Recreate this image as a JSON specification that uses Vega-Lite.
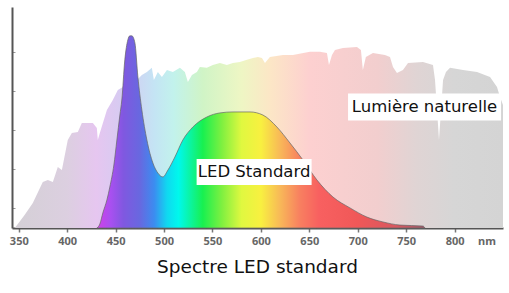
{
  "$schema": "https://vega.github.io/schema/vega-lite/v6.json",
  "width": 491,
  "height": 221,
  "autosize": "none",
  "padding": {"left": 12, "top": 7, "right": 6, "bottom": 65},
  "background": "white",
  "config": {"view": {"stroke": null}},
  "title": {
    "text": "Spectre LED standard",
    "orient": "bottom",
    "anchor": "middle",
    "font": "DejaVu Sans",
    "fontSize": 18.5,
    "fontWeight": "normal",
    "color": "#111111",
    "offset": 12
  },
  "datasets": {
    "natural": [
      {"nm":345.9,"v":0},{"nm":356,"v":0.67},{"nm":364.5,"v":1.28},{"nm":374.8,"v":2.36},{"nm":380,"v":2.46},{"nm":385.2,"v":2.36},{"nm":390.3,"v":3.13},{"nm":394.5,"v":2.97},{"nm":400.6,"v":4.51},{"nm":404.8,"v":4.87},{"nm":411,"v":4.92},{"nm":415.1,"v":5.38},{"nm":426.5,"v":5.38},{"nm":430.6,"v":5.13},{"nm":431.6,"v":4.51},{"nm":433.7,"v":4.87},{"nm":441,"v":6.05},{"nm":447.1,"v":6.56},{"nm":452.3,"v":7.08},{"nm":457.5,"v":7.23},{"nm":464.7,"v":7.44},{"nm":472,"v":7.59},{"nm":477.1,"v":7.85},{"nm":482.3,"v":8.0},{"nm":487.4,"v":8.21},{"nm":489.5,"v":7.59},{"nm":493.6,"v":8.0},{"nm":497.8,"v":7.74},{"nm":503,"v":8.1},{"nm":509.1,"v":8.0},{"nm":516.4,"v":8.21},{"nm":521.5,"v":8.0},{"nm":524.6,"v":7.49},{"nm":528.8,"v":7.85},{"nm":533.9,"v":8.0},{"nm":537,"v":8.26},{"nm":544.2,"v":8.21},{"nm":550.4,"v":8.36},{"nm":557.7,"v":8.46},{"nm":564.9,"v":8.36},{"nm":571.1,"v":8.46},{"nm":578.3,"v":8.51},{"nm":585.6,"v":8.62},{"nm":591.8,"v":8.72},{"nm":597,"v":8.77},{"nm":601.1,"v":8.72},{"nm":604.2,"v":8.46},{"nm":609.3,"v":8.77},{"nm":622.8,"v":8.87},{"nm":633.1,"v":8.87},{"nm":650.6,"v":9.03},{"nm":660.9,"v":9.03},{"nm":668.2,"v":8.97},{"nm":670.3,"v":8.36},{"nm":673.4,"v":8.87},{"nm":676.5,"v":9.13},{"nm":684.7,"v":9.23},{"nm":699.2,"v":9.28},{"nm":703.3,"v":9.13},{"nm":705.3,"v":8.1},{"nm":708.4,"v":8.77},{"nm":715.7,"v":8.97},{"nm":728.1,"v":8.87},{"nm":733.3,"v":8.77},{"nm":736.4,"v":8.26},{"nm":740.5,"v":7.95},{"nm":746.7,"v":8.1},{"nm":751.9,"v":8.46},{"nm":767.4,"v":8.51},{"nm":777.7,"v":8.36},{"nm":779.8,"v":7.59},{"nm":781.9,"v":6.05},{"nm":783.9,"v":4.51},{"nm":786,"v":6.05},{"nm":788.1,"v":7.59},{"nm":791.1,"v":8.0},{"nm":795.3,"v":8.21},{"nm":808.7,"v":8.1},{"nm":823.2,"v":8.0},{"nm":836.6,"v":7.74},{"nm":843.8,"v":7.23},{"nm":846.9,"v":6.72},{"nm":850,"v":6.3}
    ],
    "led": [
      {"nm":430.6,"v":0},{"nm":433.7,"v":0.2},{"nm":436.8,"v":0.77},{"nm":441,"v":1.44},{"nm":444,"v":2.1},{"nm":448.2,"v":3.23},{"nm":451.3,"v":4.51},{"nm":454.4,"v":5.79},{"nm":456.4,"v":6.56},{"nm":459.5,"v":8.62},{"nm":462.6,"v":9.64},{"nm":464.7,"v":9.85},{"nm":466.8,"v":9.85},{"nm":469.9,"v":9.49},{"nm":473,"v":7.74},{"nm":477.1,"v":6.05},{"nm":482.3,"v":4.51},{"nm":488.5,"v":3.33},{"nm":493.6,"v":2.82},{"nm":498.8,"v":2.62},{"nm":504,"v":2.97},{"nm":511.2,"v":3.64},{"nm":519.4,"v":4.51},{"nm":529.8,"v":5.18},{"nm":544.2,"v":5.69},{"nm":557.7,"v":5.9},{"nm":571.1,"v":5.95},{"nm":588.7,"v":5.95},{"nm":602.1,"v":5.79},{"nm":616.5,"v":5.18},{"nm":630,"v":4.36},{"nm":643.4,"v":3.49},{"nm":657.9,"v":2.46},{"nm":674.4,"v":1.59},{"nm":692,"v":1.03},{"nm":709.5,"v":0.56},{"nm":726,"v":0.31},{"nm":743.6,"v":0.15},{"nm":767.4,"v":0.1},{"nm":769.4,"v":0}
    ],
    "labels": [
      {"label":"LED Standard","nm":593,"v":2.87},
      {"label":"Lumière naturelle","nm":769,"v":6.2}
    ]
  },
  "layer": [
    {
      "data": {"name": "natural"},
      "mark": {
        "type": "area",
        "interpolate": "linear",
        "color": {
          "gradient": "linear", "x1": 0, "x2": 1, "y1": 0, "y2": 0,
          "stops": [
            {"offset": 0, "color": "#d4d0d6"},
            {"offset": 0.107, "color": "#dccfe0"},
            {"offset": 0.167, "color": "#e6c6f0"},
            {"offset": 0.226, "color": "#d4ccf2"},
            {"offset": 0.286, "color": "#c4e4f4"},
            {"offset": 0.325, "color": "#c2f2ec"},
            {"offset": 0.385, "color": "#d0f4c6"},
            {"offset": 0.464, "color": "#eef6c4"},
            {"offset": 0.524, "color": "#fce6c6"},
            {"offset": 0.603, "color": "#fdd0d0"},
            {"offset": 0.742, "color": "#f2cece"},
            {"offset": 0.821, "color": "#e0d4d4"},
            {"offset": 0.9, "color": "#d6d6d6"},
            {"offset": 1, "color": "#d4d4d4"}
          ]
        }
      },
      "encoding": {
        "x": {
          "field": "nm", "type": "quantitative",
          "scale": {"domain": [343, 850], "nice": false, "zero": false},
          "axis": {
            "title": null,
            "values": [350, 400, 450, 500, 550, 600, 650, 700, 750, 800, 833],
            "labelExpr": "datum.value == 833 ? 'nm' : datum.label",
            "labelFont": "Noto Sans",
            "labelFontSize": 11,
            "labelFontWeight": "bold",
            "labelColor": "#666666",
            "labelPadding": 3,
            "domainColor": "#555555",
            "domainWidth": 2,
            "tickColor": "#777777",
            "tickSize": 4,
            "tickWidth": 1.5,
            "tickOpacity": {"condition": {"test": "datum.value == 833", "value": 0}, "value": 1},
            "grid": false
          }
        },
        "y": {
          "field": "v", "type": "quantitative",
          "scale": {"domain": [0, 11.33], "nice": false},
          "axis": {
            "title": null,
            "values": [1, 2, 3, 4, 5, 6, 7, 8, 9, 10],
            "labels": false,
            "domainColor": "#555555",
            "domainWidth": 2,
            "tickColor": "#999999",
            "tickSize": -3,
            "grid": false
          }
        }
      }
    },
    {
      "data": {"name": "led"},
      "mark": {
        "type": "area",
        "interpolate": "monotone",
        "stroke": "#666666",
        "strokeWidth": 1,
        "strokeOpacity": 0.7,
        "color": {
          "gradient": "linear", "x1": 0, "x2": 1, "y1": 0, "y2": 0,
          "stops": [
            {"offset": 0, "color": "#d040e8"},
            {"offset": 0.0425, "color": "#a850f0"},
            {"offset": 0.081, "color": "#8058e0"},
            {"offset": 0.131, "color": "#6868e0"},
            {"offset": 0.175, "color": "#3c8cf0"},
            {"offset": 0.214, "color": "#10d8f0"},
            {"offset": 0.249, "color": "#00f8ec"},
            {"offset": 0.323, "color": "#18f050"},
            {"offset": 0.382, "color": "#80f040"},
            {"offset": 0.441, "color": "#e0f840"},
            {"offset": 0.5, "color": "#f8f040"},
            {"offset": 0.559, "color": "#f8b858"},
            {"offset": 0.618, "color": "#f88060"},
            {"offset": 0.677, "color": "#f86060"},
            {"offset": 0.795, "color": "#f05858"},
            {"offset": 0.913, "color": "#d85860"},
            {"offset": 1, "color": "#a05868"}
          ]
        }
      },
      "encoding": {
        "x": {"field": "nm", "type": "quantitative"},
        "y": {"field": "v", "type": "quantitative"}
      }
    },
    {
      "data": {"name": "labels"},
      "transform": [{"filter": "datum.label == 'LED Standard'"}],
      "mark": {"type": "rect", "width": 115, "height": 26, "color": "white"},
      "encoding": {
        "x": {"field": "nm", "type": "quantitative"},
        "y": {"field": "v", "type": "quantitative"}
      }
    },
    {
      "data": {"name": "labels"},
      "transform": [{"filter": "datum.label == 'Lumière naturelle'"}],
      "mark": {"type": "rect", "width": 153, "height": 27, "color": "white"},
      "encoding": {
        "x": {"field": "nm", "type": "quantitative"},
        "y": {"field": "v", "type": "quantitative"}
      }
    },
    {
      "data": {"name": "labels"},
      "mark": {"type": "text", "font": "DejaVu Sans", "fontSize": 16.5, "color": "#111111", "align": "center", "baseline": "middle"},
      "encoding": {
        "x": {"field": "nm", "type": "quantitative"},
        "y": {"field": "v", "type": "quantitative"},
        "text": {"field": "label"}
      }
    }
  ]
}
